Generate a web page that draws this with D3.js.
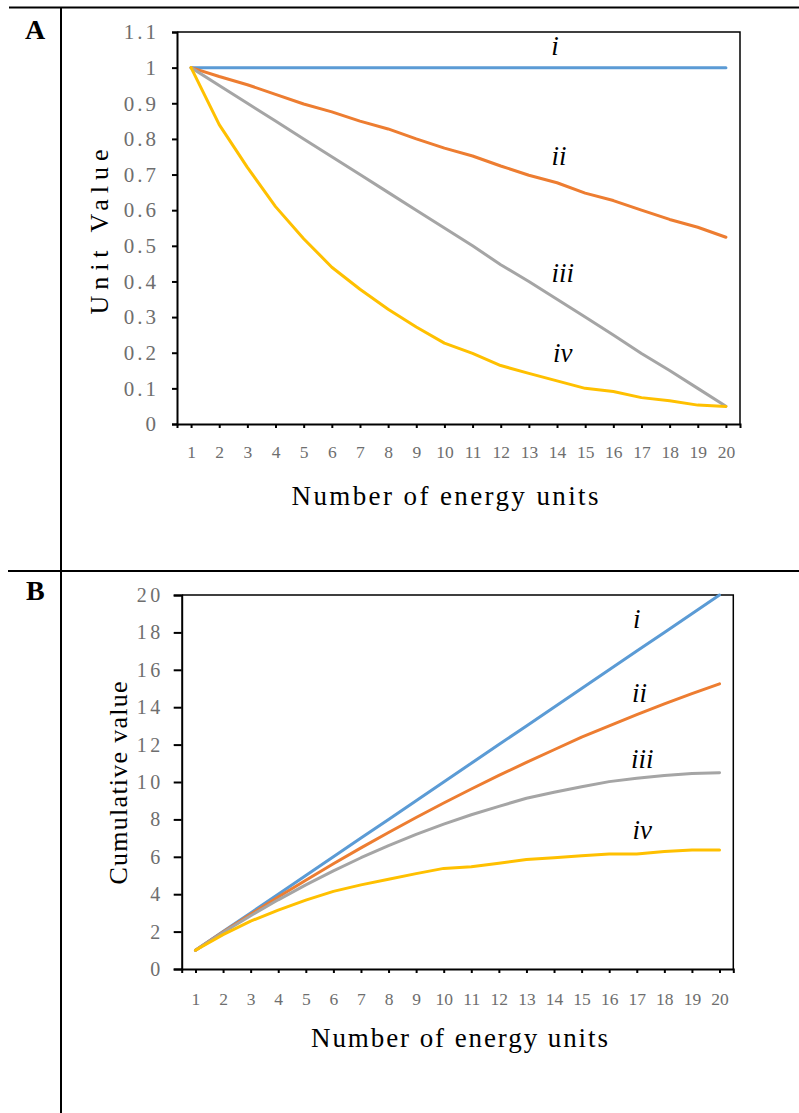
<!DOCTYPE html>
<html>
<head>
<meta charset="utf-8">
<script src="https://cdn.jsdelivr.net/npm/d3@7"></script>
<style>
  body { margin: 0; background: #fff; }
  text { font-family: "Liberation Serif", "Times New Roman", serif; }
</style>
</head>
<body>
<svg id="fig" width="799" height="1113"></svg>
<script>
// categories and values
const units = [1, 2, 3, 4, 5, 6, 7, 8, 9, 10, 11, 12, 13, 14, 15, 16, 17, 18, 19, 20];

// panel A: unit value
const unitI   = [1, 1, 1, 1, 1, 1, 1, 1, 1, 1, 1, 1, 1, 1, 1, 1, 1, 1, 1, 1];
const unitII  = [1, 0.975, 0.952, 0.925, 0.898, 0.876, 0.85, 0.828, 0.8, 0.774, 0.752, 0.724, 0.698, 0.677, 0.648, 0.627, 0.6, 0.574, 0.552, 0.524];
const unitIII = [1, 0.95, 0.9, 0.85, 0.8, 0.75, 0.7, 0.65, 0.6, 0.55, 0.5, 0.447, 0.4, 0.35, 0.3, 0.25, 0.198, 0.15, 0.1, 0.05];
const unitIV  = [1, 0.84, 0.72, 0.61, 0.52, 0.44, 0.378, 0.322, 0.272, 0.227, 0.198, 0.164, 0.142, 0.121, 0.1, 0.091, 0.074, 0.065, 0.053, 0.049];

// panel B: cumulative value
const cumI   = [1, 2, 3, 4, 5, 6, 7, 8, 9, 10, 11, 12, 13, 14, 15, 16, 17, 18, 19, 20];
const cumII  = [1, 1.975, 2.925, 3.85, 4.75, 5.625, 6.475, 7.3, 8.1, 8.875, 9.625, 10.35, 11.05, 11.725, 12.4, 13.0, 13.6, 14.175, 14.725, 15.25];
const cumIII = [1, 1.95, 2.85, 3.7, 4.5, 5.25, 5.95, 6.6, 7.2, 7.75, 8.25, 8.7, 9.13, 9.45, 9.75, 10.02, 10.2, 10.35, 10.45, 10.5];
const cumIV  = [1, 1.84, 2.56, 3.15, 3.68, 4.15, 4.5, 4.8, 5.1, 5.38, 5.47, 5.65, 5.85, 5.95, 6.05, 6.15, 6.15, 6.28, 6.37, 6.37];

const seriesNames = ["i", "ii", "iii", "iv"];
const seriesColors = ["#5b9bd5", "#ed7d31", "#a5a5a5", "#ffc000"];

const yTicksA = [0, 0.1, 0.2, 0.3, 0.4, 0.5, 0.6, 0.7, 0.8, 0.9, 1, 1.1];
const yTicksB = [0, 2, 4, 6, 8, 10, 12, 14, 16, 18, 20];

// where the roman numeral labels sit, in data units (category, value)
const labelPosA = [[13.93, 1.036], [14.07, 0.727], [14.2, 0.399], [14.2, 0.174]];
const labelPosB = [[17.0, 18.24], [17.1, 14.29], [17.2, 10.75], [17.2, 6.95]];

const svg = d3.select("#fig");

// table frame
const frame = svg.append("g").attr("stroke", "black").attr("stroke-width", 2);
frame.append("line").attr("x1", 9).attr("y1", 7.5).attr("x2", 799).attr("y2", 7.5);
frame.append("line").attr("x1", 61).attr("y1", 7.5).attr("x2", 61).attr("y2", 1113);
frame.append("line").attr("x1", 8).attr("y1", 571).attr("x2", 799).attr("y2", 571);

svg.append("text").attr("x", 25).attr("y", 39)
    .attr("font-size", 28).attr("font-weight", "bold").text("A");
svg.append("text").attr("x", 26).attr("y", 600)
    .attr("font-size", 28).attr("font-weight", "bold").text("B");

function drawPanel(p) {

    const x = d3.scalePoint()
        .domain(units)
        .range([p.left, p.right])
        .padding(0.5);

    const xLin = d3.scaleLinear()
        .domain([1, 20])
        .range([x(1), x(20)]);

    const y = d3.scaleLinear()
        .domain(p.yDomain)
        .range([p.bottom, p.top]);

    const g = svg.append("g");

    // top and right border of the plot area
    g.append("path")
        .attr("d", `M${p.left},${p.top}H${p.right}V${p.bottom}`)
        .attr("fill", "none")
        .attr("stroke", "black")
        .attr("stroke-width", 1.5);

    const xAxis = g.append("g")
        .attr("transform", `translate(0,${p.bottom})`)
        .call(d3.axisBottom(x).tickSize(4).tickSizeOuter(4).tickPadding(p.xPad));

    const yAxis = g.append("g")
        .attr("transform", `translate(${p.left},0)`)
        .call(d3.axisLeft(y).tickValues(p.yTicks).tickSize(p.yTick).tickSizeOuter(p.yTick)
            .tickPadding(p.yPad).tickFormat(d3.format("~g")));

    [xAxis, yAxis].forEach(a => {
        a.selectAll("path, line").attr("stroke", "black").attr("stroke-width", 2);
        a.selectAll("text").attr("fill", "#6e6e6e").style("font-family", "'Liberation Serif', serif");
    });
    xAxis.selectAll("text").attr("font-size", 17.5);
    yAxis.selectAll("text").attr("font-size", p.yFont).attr("letter-spacing", p.ySpacing);

    const line = d3.line()
        .x((d, i) => x(units[i]))
        .y(d => y(d));

    p.series.forEach((s, k) => {
        g.append("path")
            .attr("d", line(s))
            .attr("fill", "none")
            .attr("stroke", seriesColors[k])
            .attr("stroke-width", 3)
            .attr("stroke-linejoin", "round")
            .attr("stroke-linecap", "round");
    });

    p.labelPos.forEach((pos, k) => {
        g.append("text")
            .attr("x", xLin(pos[0]))
            .attr("y", y(pos[1]))
            .attr("text-anchor", "middle")
            .attr("font-size", 27)
            .attr("font-style", "italic")
            .text(seriesNames[k]);
    });

    // axis titles
    g.append("text")
        .attr("transform", `translate(${p.yTitleX},${p.yTitleY}) rotate(-90)`)
        .attr("text-anchor", "middle")
        .attr("font-size", 26)
        .attr("textLength", p.yTitleLen)
        .attr("lengthAdjust", "spacing")
        .text(p.yTitle);

    g.append("text")
        .attr("x", p.xTitleX)
        .attr("y", p.xTitleY)
        .attr("text-anchor", "middle")
        .attr("font-size", 27)
        .attr("textLength", p.xTitleLen)
        .attr("lengthAdjust", "spacing")
        .text("Number of energy units");
}

drawPanel({
    left: 177, right: 740, top: 32, bottom: 424,
    yDomain: [0, 1.1], yTicks: yTicksA, yTick: 5, yPad: 13, yFont: 21, ySpacing: 3,
    xPad: 18,
    series: [unitI, unitII, unitIII, unitIV],
    labelPos: labelPosA,
    yTitle: "Unit Value", yTitleX: 108, yTitleY: 232, yTitleLen: 165,
    xTitleX: 445, xTitleY: 505, xTitleLen: 307
});

drawPanel({
    left: 181.7, right: 733.3, top: 595, bottom: 969,
    yDomain: [0, 20], yTicks: yTicksB, yTick: 8, yPad: 10, yFont: 20, ySpacing: 3.5,
    xPad: 20,
    series: [cumI, cumII, cumIII, cumIV],
    labelPos: labelPosB,
    yTitle: "Cumulative value", yTitleX: 127, yTitleY: 783, yTitleLen: 203,
    xTitleX: 459.5, xTitleY: 1047, xTitleLen: 297
});
</script>
</body>
</html>
